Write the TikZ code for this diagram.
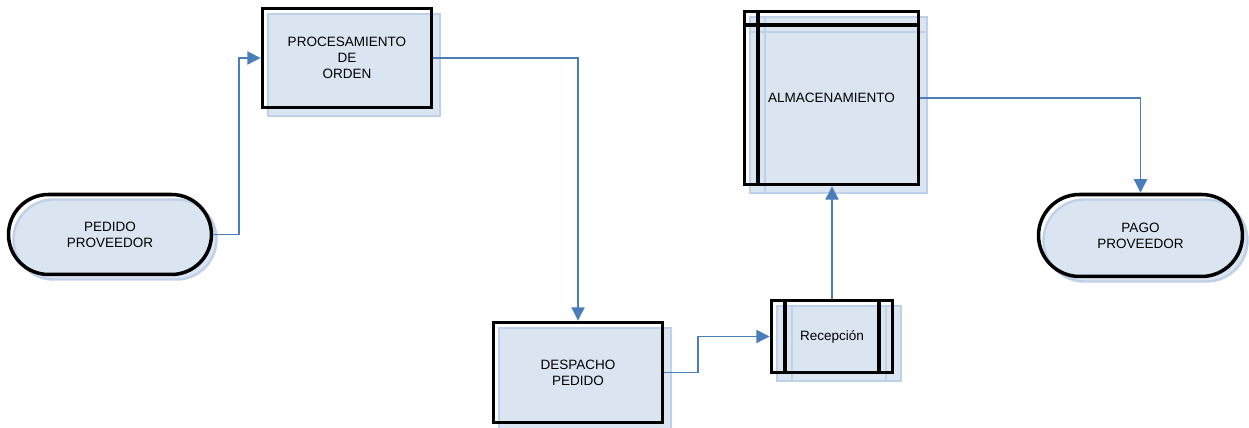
\documentclass[tikz,border=0pt]{standalone}
\usepackage{fontspec}
\setmainfont{Liberation Sans}
\usepackage{tikz}
\usetikzlibrary{
	arrows.meta,
	calc,
	positioning,
	shapes.misc,
}

\definecolor{boxfill}{HTML}{DBE5F1}
\definecolor{boxshade}{HTML}{BFD1E9}
\definecolor{flowblue}{HTML}{4A7EBB}

\pgfdeclarelayer{shade}
\pgfsetlayers{shade,main}

\tikzset{default box/.style={
	draw,
	line width=2pt,
	inner sep=0mm,
	align=center,
	font=\fontsize{7.7}{9.2}\selectfont,
	black,
}}

\begin{document}
\begin{tikzpicture}[
x=0.02cm,
y=-0.02cm,
flow/.style={
	flowblue,
	line width=1.1pt,
	-{Triangle[length=2.7mm, width=2.6mm]},
}]
\useasboundingbox (0,0) rectangle (1249,428);

\tikzset{
	pill/.style={default box, rounded rectangle},
	task/.style={default box, rectangle},
	sh/.style={fill=boxfill, draw=boxshade, line width=1.4pt},
	shline/.style={draw=boxshade, line width=1.4pt},
	bar/.style={black, line width=2pt},
}

% terminators
\begin{scope}[every node/.style={pill}]
\node(ped)[minimum width=4.06cm, minimum height=1.6cm]	at(110,234.5)	{PEDIDO\\PROVEEDOR};
\node(pago)[minimum width=4.08cm, minimum height=1.64cm]	at(1140.5,235.5)	{PAGO\\PROVEEDOR};
\end{scope}

% processes
\begin{scope}[every node/.style={task}]
\node(proc)[minimum width=3.38cm, minimum height=1.98cm]	at(347,58)		{PROCESAMIENTO\\DE\\ORDEN};
\node(desp)[minimum width=3.38cm, minimum height=2cm]		at(578,372.5)	{DESPACHO\\PEDIDO};
\node(rec)[minimum width=2.42cm, minimum height=1.44cm]	at(832,336.5)	{Recepción};
\node(alm)[minimum width=3.48cm, minimum height=3.46cm]	at(831.5,98)	{ALMACENAMIENTO};
\end{scope}

% side bars
\draw[bar] ($(alm.north west)+(15,0)$) -- ($(alm.south west)+(15,0)$);
\draw[bar] ($(alm.north west)+(0,15)$) -- ($(alm.north east)+(0,15)$);
\draw[bar] ($(rec.north west)+(15,0)$) -- ($(rec.south west)+(15,0)$);
\draw[bar] ($(rec.north east)+(-15,0)$) -- ($(rec.south east)+(-15,0)$);

% shadows under everything
\begin{pgfonlayer}{shade}
\node(ped sh)[pill, sh, minimum width=4.06cm, minimum height=1.6cm]	at($(ped)+(5,5)$)	{};
\node(pago sh)[pill, sh, minimum width=4.08cm, minimum height=1.64cm]	at($(pago)+(5,5)$)	{};
\foreach \n in {proc,desp,rec,alm}
	\draw[sh] ($(\n.north west)+(7,7)$) rectangle ($(\n.south east)+(7,7)$);
\draw[shline] ($(alm.north west)+(22,7)$) -- ($(alm.south west)+(22,7)$);
\draw[shline] ($(alm.north west)+(7,22)$) -- ($(alm.north east)+(7,22)$);
\draw[shline] ($(rec.north west)+(22,7)$) -- ($(rec.south west)+(22,7)$);
\draw[shline] ($(rec.north east)+(-8,7)$) -- ($(rec.south east)+(-8,7)$);
\end{pgfonlayer}

\begin{scope}[flow]
\draw (ped.east) -- ++(26,0) |- (proc.west);
\draw (proc.east) -| (desp.north);
\draw (desp.east) -- ++(34,0) |- (rec.west);
\draw (rec.north) -- (rec.north |- alm.south);
\draw (alm.east) -| (pago.north);
\end{scope}

\end{tikzpicture}
\end{document}
